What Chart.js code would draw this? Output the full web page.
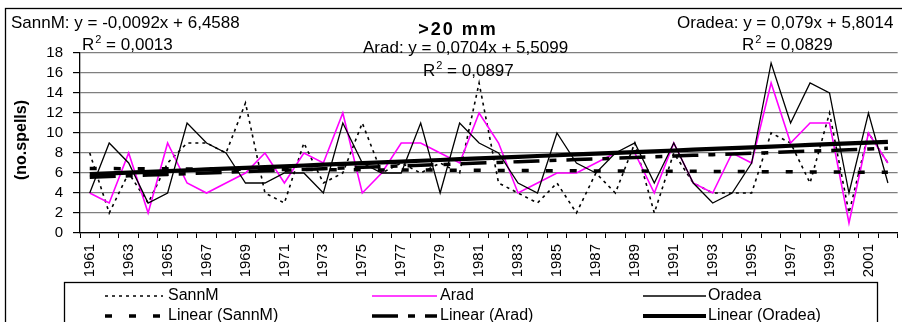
<!DOCTYPE html>
<html><head><meta charset="utf-8">
<script src="https://cdn.jsdelivr.net/npm/chart.js@4/dist/chart.umd.min.js"></script>
<style>
html,body{margin:0;padding:0;background:#fff;overflow:hidden;}
#wrap{position:relative;width:912px;height:322px;}
</style></head><body>
<div id="wrap"><canvas id="c" width="912" height="322"></canvas></div>
<script>
const years = ['1961','1962','1963','1964','1965','1966','1967','1968','1969','1970',
  '1971','1972','1973','1974','1975','1976','1977','1978','1979','1980',
  '1981','1982','1983','1984','1985','1986','1987','1988','1989','1990',
  '1991','1992','1993','1994','1995','1996','1997','1998','1999','2000',
  '2001','2002'];
const sannM  = [8,2,6,3,7,9,9,8,13,4, 3,9,5,6,11,6,7,6,7,6, 15,5,4,3,5,2,6,4,9,2, 8,5,4,4,4,10,9,5,12,2, 10,7];
const arad   = [4,3,8,2,9,5,4,5,6,8, 5,8,7,12,4,6,9,9,8,7, 12,9,4,5,6,6,7,8,8,4, 9,5,4,8,7,15,9,11,11,1, 10,7];
const oradea = [4,9,7,3,4,11,9,8,5,5, 6,6,4,11,7,6,6,11,4,11, 9,8,5,4,10,7,6,8,9,5, 9,5,3,4,7,17,11,15,14,4, 12,5];
const yTicks = [0,2,4,6,8,10,12,14,16,18];
// trend-line coefficients printed on the chart (x = 1..n)
const trendSannM  = [-0.0092, 6.4588];
const trendArad   = [0.0704, 5.5099];
const trendOradea = [0.079, 5.8014];
const eqSannM  = ['SannM: y = -0,0092x + 6,4588', '0,0013'];
const eqArad   = ['Arad: y = 0,0704x + 5,5099', '0,0897'];
const eqOradea = ['Oradea: y = 0,079x + 5,8014', '0,0829'];
const titleText = '>20 mm';
const yTitle = '(no.spells)';

const FONT = "'Liberation Sans', Arial, sans-serif";
const trend = c => years.map((_, i) => c[0] * (i + 1) + c[1]);

const styles = {
  sann:  {color:'#000', width:1.6, dash:[3,4]},
  arad:  {color:'#FF00FF', width:1.6, dash:[]},
  orad:  {color:'#000', width:1.3, dash:[]},
  lsann: {color:'#000', width:3.5, dash:[7,17]},
  larad: {color:'#000', width:3.5, dash:[26,10,7,10]},
  lorad: {color:'#000', width:4.2, dash:[]}
};

function ds(label, data, st, order){
  return {label, data, borderColor:st.color, borderWidth:st.width, borderDash:st.dash,
    pointRadius:0, tension:0, fill:false, order, borderCapStyle:'butt', borderJoinStyle:'miter'};
}

const decor = {
  id:'decor',
  afterDraw(chart){
    const ctx = chart.ctx;
    ctx.save();
    ctx.strokeStyle = '#000'; ctx.lineWidth = 1.3; ctx.setLineDash([]);
    ctx.strokeRect(5.5, 8.5, 1000, 400);
    ctx.fillStyle = '#000';
    ctx.textBaseline = 'alphabetic';
    ctx.font = 'bold 18px ' + FONT;
    ctx.textAlign = 'center';
    ctx.letterSpacing = '2px';
    ctx.fillText(titleText, 458, 35);
    ctx.letterSpacing = '0px';
    function r2(x, y, val){
      ctx.textAlign = 'left';
      ctx.font = '17px ' + FONT;
      ctx.fillText('R', x, y);
      let w = ctx.measureText('R').width;
      ctx.font = '11px ' + FONT;
      ctx.fillText('2', x + w + 1, y - 7);
      let w2 = ctx.measureText('2').width;
      ctx.font = '17px ' + FONT;
      ctx.fillText(' = ' + val, x + w + w2 + 1, y);
    }
    ctx.font = '17px ' + FONT;
    ctx.textAlign = 'left';
    ctx.fillText(eqSannM[0], 11, 28);
    r2(82, 50, eqSannM[1]);
    ctx.font = '17px ' + FONT;
    ctx.fillText(eqArad[0], 363, 53);
    r2(423, 76, eqArad[1]);
    ctx.font = '17px ' + FONT;
    ctx.fillText(eqOradea[0], 677, 28);
    r2(742, 50, eqOradea[1]);
    ctx.save();
    ctx.translate(22, 140);
    ctx.rotate(-Math.PI / 2);
    ctx.font = 'bold 16px ' + FONT;
    ctx.textAlign = 'center';
    ctx.textBaseline = 'middle';
    ctx.fillText(yTitle, 0, 0);
    ctx.restore();
    ctx.lineWidth = 1.3;
    ctx.strokeRect(64.5, 282.5, 813, 80);
    const items = [
      ['SannM', styles.sann, 105, 163, 168, 296],
      ['Arad', styles.arad, 372, 437, 440, 296],
      ['Oradea', styles.orad, 643, 706, 708, 296],
      ['Linear (SannM)', styles.lsann, 105, 163, 168, 316],
      ['Linear (Arad)', styles.larad, 372, 437, 440, 316],
      ['Linear (Oradea)', styles.lorad, 643, 706, 708, 316]
    ];
    items.forEach(([txt, st, x1, x2, tx, y]) => {
      ctx.save();
      ctx.strokeStyle = st.color; ctx.lineWidth = st.width; ctx.setLineDash(st.dash);
      ctx.lineCap = 'butt';
      ctx.beginPath(); ctx.moveTo(x1, y); ctx.lineTo(x2, y); ctx.stroke();
      ctx.restore();
      ctx.font = '16px ' + FONT;
      ctx.textAlign = 'left'; ctx.textBaseline = 'middle';
      ctx.fillStyle = '#000';
      ctx.fillText(txt, tx, y);
    });
    ctx.restore();
  }
};

new Chart(document.getElementById('c'), {
  type:'line',
  data:{labels:years, datasets:[
    ds('SannM', sannM, styles.sann, 6),
    ds('Arad', arad, styles.arad, 5),
    ds('Oradea', oradea, styles.orad, 4),
    ds('Linear (SannM)', trend(trendSannM), styles.lsann, 3),
    ds('Linear (Arad)', trend(trendArad), styles.larad, 2),
    ds('Linear (Oradea)', trend(trendOradea), styles.lorad, 1)
  ]},
  options:{
    responsive:false, animation:false, devicePixelRatio:1,
    layout:{padding:{left:0, right:7, top:53, bottom:0}},
    plugins:{legend:{display:false}, tooltip:{enabled:false}, title:{display:false}},
    scales:{
      x:{
        offset:true,
        grid:{offset:true, drawOnChartArea:false, tickLength:5, color:'#000'},
        border:{color:'#000', width:1.3},
        ticks:{autoSkip:false, minRotation:90, maxRotation:90, padding:6, color:'#000',
          font:{family:FONT, size:15},
          callback:(v, i) => (i % 2 === 0 ? years[i] : '')},
        afterFit:s => { s.height = 89; }
      },
      y:{
        min:yTicks[0], max:yTicks[yTicks.length - 1],
        afterBuildTicks:s => { s.ticks = yTicks.map(v => ({value:v})); },
        grid:{color:'#7f7f7f', lineWidth:1.2, tickLength:7, tickColor:'#000'},
        border:{color:'#000', width:1.3},
        ticks:{autoSkip:false, color:'#000', font:{family:FONT, size:15}, padding:10},
        afterFit:s => { s.width = 80; }
      }
    }
  },
  plugins:[decor]
});
</script>
</body></html>
